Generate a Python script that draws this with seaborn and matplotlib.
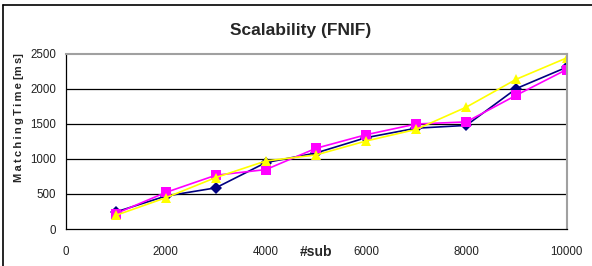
import numpy as np
import pandas as pd
import matplotlib
matplotlib.use("Agg")
import matplotlib.pyplot as plt
from matplotlib.lines import Line2D
import seaborn as sns

# data
subs = [1000, 2000, 3000, 4000, 5000, 6000, 7000, 8000, 9000, 10000]
series_a = [242, 470, 588, 949, 1086, 1305, 1440, 1480, 2007, 2310]
series_b = [218, 522, 768, 849, 1153, 1347, 1500, 1530, 1912, 2277]
series_c = [194, 446, 735, 972, 1058, 1257, 1423, 1741, 2140, 2443]
names = ["A", "B", "C"]
colors = ["#000080", "#FF00FF", "#FFFF00"]
markers = ["D", "s", "^"]
x_ticks = [0, 2000, 4000, 6000, 8000, 10000]
y_ticks = [0, 500, 1000, 1500, 2000, 2500]

df = pd.DataFrame({
    "sub": subs * 3,
    "time": series_a + series_b + series_c,
    "series": [names[0]] * 10 + [names[1]] * 10 + [names[2]] * 10,
})

sns.set_style("white")
plt.rcParams["font.family"] = ["Liberation Sans", "DejaVu Sans"]

W, H = 592, 266
fig = plt.figure(figsize=(W / 100, H / 100), dpi=100)
ax = fig.add_axes([65.5 / W, 1 - 229 / H, 501 / W, 175 / H])

sns.lineplot(data=df, x="sub", y="time", hue="series", style="series",
             palette=colors, markers=markers, dashes=False, linewidth=1.2,
             markersize=6.5, markeredgewidth=0, legend=False, ax=ax)

ax.set_xlim(0, 10000)
ax.set_ylim(0, 2500)
ax.set_xticks(x_ticks)
ax.set_yticks(y_ticks)
ax.tick_params(axis="both", labelsize=8.3, length=3, width=0.8, color="black",
               direction="out", labelcolor="#222222")
ax.tick_params(axis="y", pad=3.5)
ax.tick_params(axis="x", pad=9)
ax.set_xlabel("")
ax.set_ylabel("")

for y in y_ticks[1:-1]:
    ax.axhline(y, color="black", linewidth=0.9, zorder=0)

for side in ["left", "bottom"]:
    ax.spines[side].set_color("black")
    ax.spines[side].set_linewidth(0.9)
for side in ["top", "right"]:
    ax.spines[side].set_color("#a0a0a0")
    ax.spines[side].set_linewidth(1.5)

fig.text(301 / W, 1 - 31 / H, "Scalability (FNIF)", fontsize=12.5, fontweight="bold",
         ha="center", va="center")
fig.text(316 / W, 1 - 252 / H, "#sub", fontsize=10, fontweight="bold",
         ha="center", va="center")
ylab = "\u2009".join("MatchingTime") + " [" + "\u2009".join("ms") + "]"
fig.text(19 / W, 1 - 118 / H, ylab, fontsize=8, fontweight="bold",
         rotation=90, ha="center", va="center")

# outer frame (left and top edges visible)
fig.add_artist(Line2D([3 / W, 3 / W], [0, 1 - 5 / H], color="black", linewidth=1.2,
                      transform=fig.transFigure))
fig.add_artist(Line2D([3 / W, 1.0], [1 - 5 / H, 1 - 5 / H], color="black", linewidth=1.2,
                      transform=fig.transFigure))

fig.savefig("out.png", dpi=100)
